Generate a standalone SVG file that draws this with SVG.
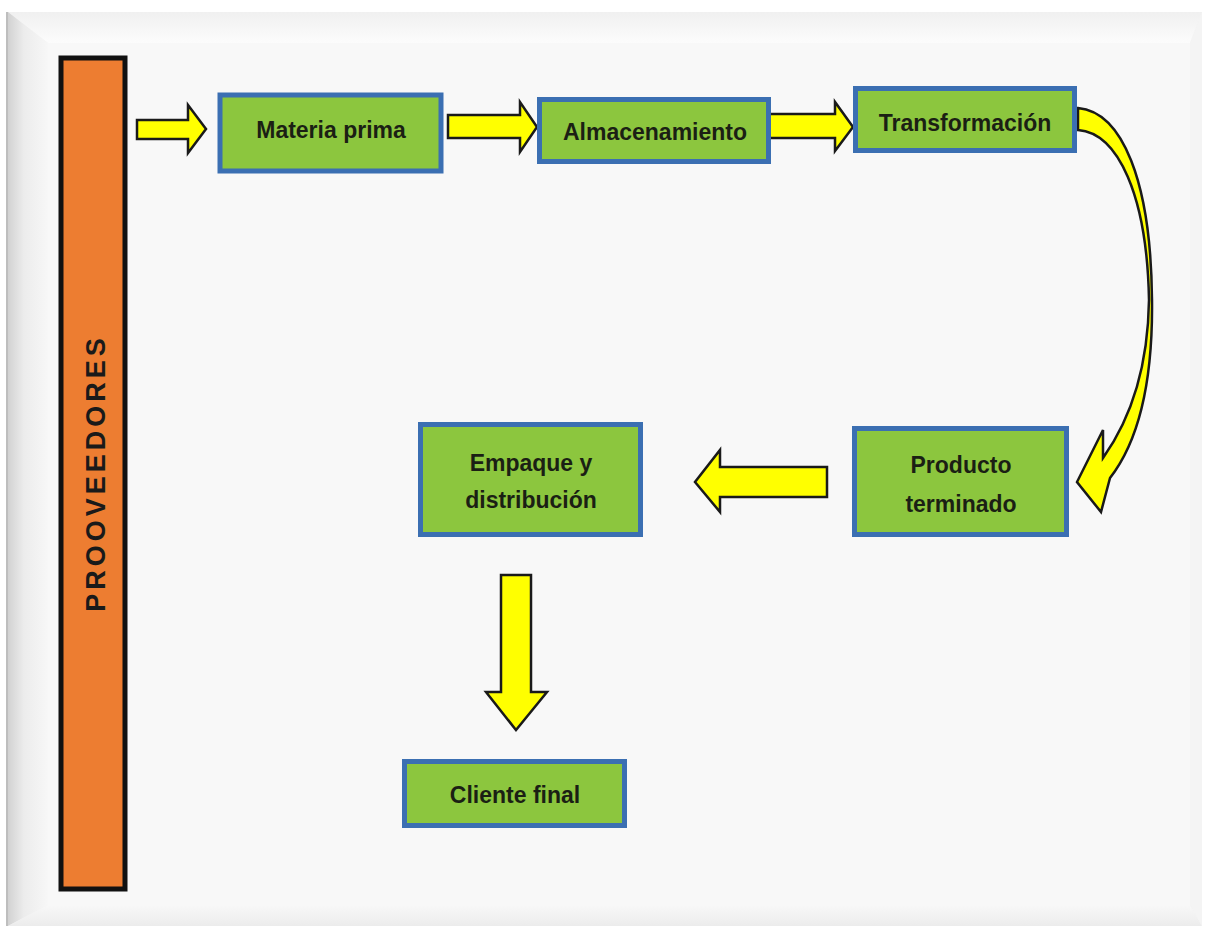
<svg xmlns="http://www.w3.org/2000/svg" width="1205" height="927" viewBox="0 0 1205 927">
<defs>
<linearGradient id="lb" x1="0" y1="0" x2="1" y2="0">
<stop offset="0" stop-color="#d2d2d2"/><stop offset="0.4" stop-color="#ececec"/><stop offset="1" stop-color="#f7f7f7"/>
</linearGradient>
<linearGradient id="tb" x1="0" y1="0" x2="0" y2="1">
<stop offset="0" stop-color="#f0f0f0"/><stop offset="1" stop-color="#fcfcfc"/>
</linearGradient>
<linearGradient id="bb" x1="0" y1="0" x2="0" y2="1">
<stop offset="0" stop-color="#f8f8f8"/><stop offset="1" stop-color="#ececec"/>
</linearGradient>
<style>
.box{fill:#8cc63e;stroke:#3b6fb2;stroke-width:5}
.lbl{font-family:"Liberation Sans",Arial,sans-serif;font-weight:bold;font-size:23px;fill:#1b1f14;text-anchor:middle}
.arr{fill:#ffff00;stroke:#1a1a1a;stroke-width:2.5;stroke-linejoin:miter}
</style>
</defs>
<rect x="0" y="0" width="1205" height="927" fill="#ffffff"/>
<g id="frame">
<rect x="8" y="12" width="1194" height="914" fill="#f3f3f3"/>
<polygon points="8,12 1202,12 1190,43 48,43" fill="url(#tb)"/>
<polygon points="8,12 48,43 48,905 8,926" fill="url(#lb)"/>
<polygon points="8,926 48,905 1190,905 1202,926" fill="url(#bb)"/>
<polygon points="1202,12 1190,43 1190,905 1202,926" fill="#f4f4f4"/>
<rect x="48" y="43" width="1142" height="862" fill="#f8f8f8"/>
<line x1="7" y1="12" x2="7" y2="926" stroke="#a8a8a8" stroke-width="1.5"/>
</g>
<g id="proveedores">
<rect x="61" y="58" width="64" height="831" fill="#ed7d31" stroke="#111" stroke-width="5"/>
<text x="0" y="0" transform="translate(105,473) rotate(-90)" font-family="'Liberation Sans',Arial,sans-serif" font-weight="bold" font-size="27" letter-spacing="4" fill="#1a1a1a" text-anchor="middle">PROOVEEDORES</text>
</g>
<g id="connectors">
<polygon class="arr" points="137,120 188,120 188,105 206,129 188,153 188,139 137,139"/>
<polygon class="arr" points="448,115 520,115 520,102 537,127 520,152 520,138 448,138"/>
<polygon class="arr" points="765,114 835,114 835,102 853,127 835,151 835,138 765,138"/>
<path class="arr" d="M1078,108 C1122,112 1151,180 1152,300 C1153,385 1138,442 1110,478 L1101,512 L1077,482 L1103,430 L1103,458 C1130,420 1148,370 1149,300 C1147,195 1118,133 1078,130 Z"/>
<polygon class="arr" points="827,467 720,467 720,450 695,482 720,512 720,497 827,497"/>
<polygon class="arr" points="501,575 531,575 531,692 547,692 516,730 486,692 501,692"/>
</g>
<g id="materia-prima">
<rect class="box" x="220" y="95" width="221" height="76"/>
<text class="lbl" x="331" y="138">Materia prima</text>
</g>
<g id="almacenamiento">
<rect class="box" x="539.5" y="99.5" width="229" height="62"/>
<text class="lbl" x="655" y="140">Almacenamiento</text>
</g>
<g id="transformacion">
<rect class="box" x="855.5" y="88.5" width="219" height="62"/>
<text class="lbl" x="965" y="131">Transformación</text>
</g>
<g id="producto-terminado">
<rect class="box" x="854.5" y="428.5" width="212" height="106"/>
<text class="lbl" x="961" y="473">Producto</text>
<text class="lbl" x="961" y="512">terminado</text>
</g>
<g id="empaque">
<rect class="box" x="420.5" y="424.5" width="220" height="110"/>
<text class="lbl" x="531" y="471">Empaque y</text>
<text class="lbl" x="531" y="508">distribución</text>
</g>
<g id="cliente-final">
<rect class="box" x="404.5" y="761.5" width="220" height="64"/>
<text class="lbl" x="515" y="803">Cliente final</text>
</g>
</svg>
